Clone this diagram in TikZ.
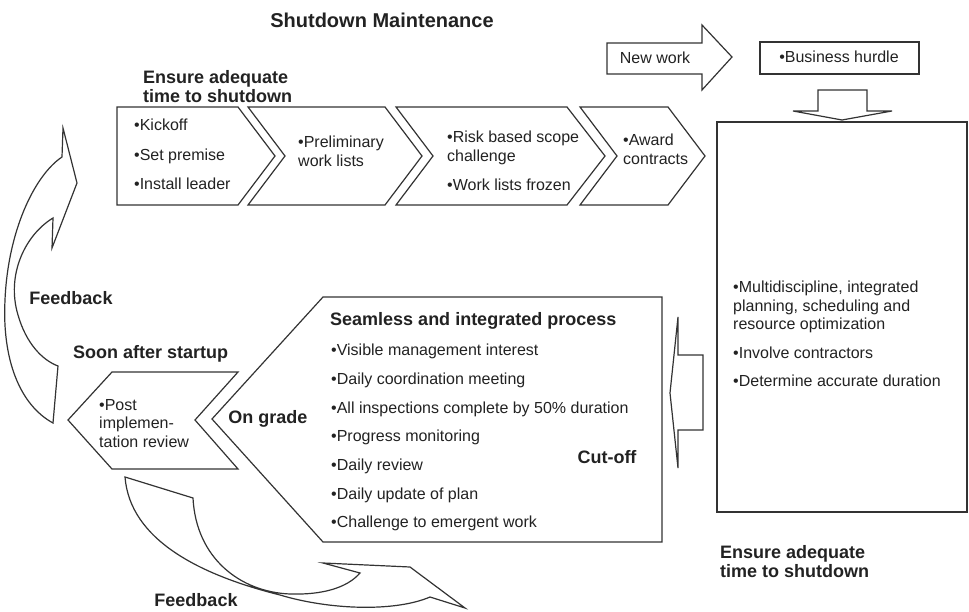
\documentclass[tikz,border=0pt]{standalone}
\usepackage{fontspec}
\setmainfont{Liberation Sans}
\definecolor{lc}{HTML}{333333}
\definecolor{tc}{HTML}{222222}
\begin{document}
\begin{tikzpicture}[x=1pt,y=-1pt,
  shp/.style={draw=lc,line width=1.2pt,fill=white,line join=miter},
  bodytxt/.style={font=\fontsize{16}{18.5}\selectfont,text=tc,inner sep=0pt,align=left,anchor=north west},
  boldtxt/.style={font=\bfseries\fontsize{18}{19.5}\selectfont,text=tc,inner sep=0pt,align=left},
]
\useasboundingbox (0,0) rectangle (969,612);

% top chevrons
\draw[shp] (117,107) -- (238,107) -- (275,156) -- (238,205) -- (117,205) -- cycle;
\draw[shp] (248,107) -- (385,107) -- (422,156) -- (385,205) -- (248,205) -- (285,156) -- cycle;
\draw[shp] (396,107) -- (567,107) -- (605,156) -- (567,205) -- (396,205) -- (433,156) -- cycle;
\draw[shp] (580,107) -- (668,107) -- (705,156) -- (668,205) -- (580,205) -- (617,156) -- cycle;

% new work arrow
\draw[shp] (607,43) -- (702,43) -- (702,25) -- (732,57) -- (702,90) -- (702,74) -- (607,74) -- cycle;
% business hurdle box
\draw[shp] (760,42) rectangle (919,74);
% down arrow
\draw[shp] (818,90) -- (867,90) -- (867,111) -- (892,111) -- (842,120) -- (793,111) -- (818,111) -- cycle;
% right big box
\draw[shp] (717,122) rectangle (967,512);
% left-pointing block arrow
\draw[shp] (703,355) -- (678,355) -- (678,317) -- (670,393) -- (678,468) -- (678,430) -- (703,430) -- cycle;
% seamless process shape
\draw[shp] (323,297) -- (662,297) -- (662,542) -- (323,542) -- (212,419) -- cycle;
% post implementation shape
\draw[shp] (68,420) -- (112,372) -- (238,372) -- (195,420) -- (238,469) -- (112,469) -- cycle;

% left curved feedback arrow
\draw[shp] (63,128) -- (77,183) -- (52,248) -- (53,218)
  .. controls (25,235) and (6,275) .. (18,315)
  .. controls (26,343) and (42,360) .. (58,366)
  -- (53,423)
  .. controls (20,405) and (2,360) .. (5,300)
  .. controls (8,230) and (35,175) .. (62,157) -- cycle;

% bottom curved feedback arrow
\draw[shp] (125,477) -- (193,498)
  .. controls (196,558) and (240,592) .. (290,594)
  .. controls (322,595) and (347,588) .. (360,573)
  -- (323,563) -- (410,567) -- (465,608) -- (430,597)
  .. controls (395,612) and (330,610) .. (280,595)
  .. controls (200,575) and (130,540) .. (125,477) -- cycle;

% texts
\node[boldtxt,font=\bfseries\fontsize{20}{22}\selectfont,anchor=center] (title) at (382,20) {Shutdown Maintenance};
\node[boldtxt,anchor=north west] (ens1) at (143,70) {Ensure adequate\\time to shutdown};
\node[bodytxt] (c1t) at (134,119) {•Kickoff\\[11pt]•Set premise\\[11pt]•Install leader};
\node[bodytxt] (c2t) at (298,136) {•Preliminary\\work lists};
\node[bodytxt] (c3t) at (447,131) {•Risk based scope\\challenge\\[10.5pt]•Work lists frozen};
\node[bodytxt] (c4t) at (623,134) {•Award\\contracts};
\node[bodytxt,anchor=center] (nw) at (655,58) {New work};
\node[bodytxt,anchor=center] (bh) at (839,57) {•Business hurdle};
\node[bodytxt] (rbt) at (733,281) {•Multidiscipline, integrated\\planning, scheduling and\\resource optimization\\[10pt]•Involve contractors\\[10pt]•Determine accurate duration};
\node[boldtxt,anchor=north west] (seam) at (330,312.5) {Seamless and integrated process};
\node[bodytxt] (slist) at (331,344) {•Visible management interest\\[10.2pt]•Daily coordination meeting\\[10.2pt]•All inspections complete by 50\% duration\\[10.2pt]•Progress monitoring\\[10.2pt]•Daily review\\[10.2pt]•Daily update of plan\\[10.2pt]•Challenge to emergent work};
\node[boldtxt,anchor=base] (ong) at (268,423.5) {On grade};
\node[boldtxt,anchor=base] (cut) at (607,463.5) {Cut-off};
\node[boldtxt,anchor=base west] (soon) at (73,358.5) {Soon after startup};
\node[bodytxt] (post) at (99,399) {•Post\\implemen-\\tation review};
\node[boldtxt,anchor=base] (fb1) at (71,304.5) {Feedback};
\node[boldtxt,anchor=base] (fb2) at (196,606.5) {Feedback};
\node[boldtxt,anchor=north west] (ens2) at (720,545) {Ensure adequate\\time to shutdown};
\end{tikzpicture}
\end{document}
